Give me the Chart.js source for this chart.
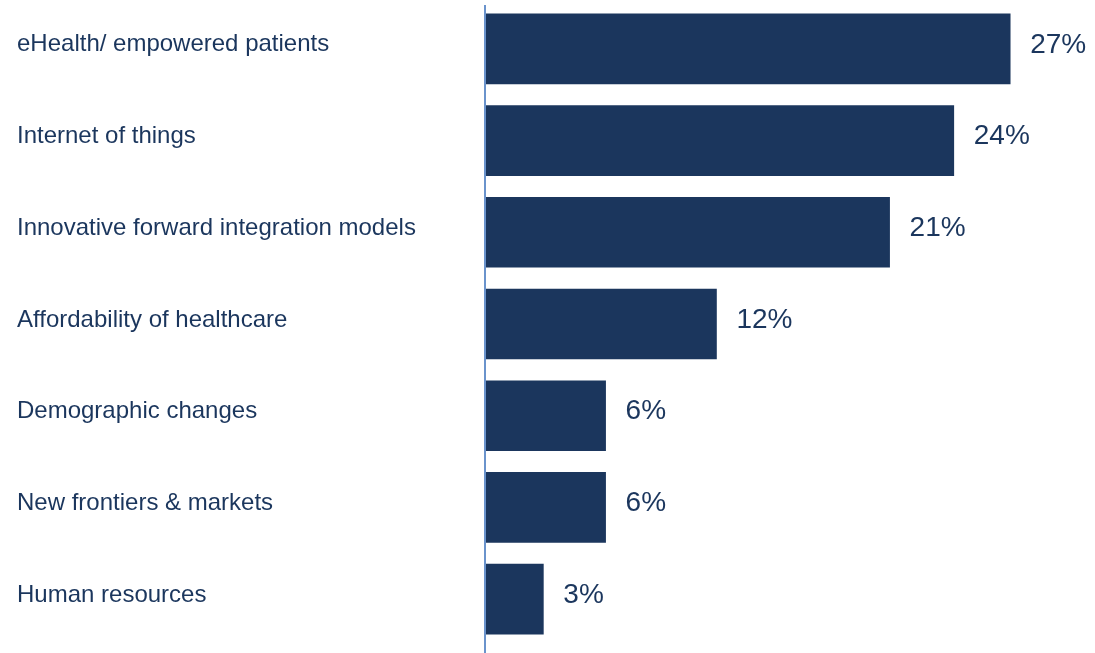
<!DOCTYPE html>
<html>
<head>
<meta charset="utf-8">
<script src="https://cdn.jsdelivr.net/npm/chart.js@4"></script>
<style>
  body { margin: 0; background: #fff; }
  #wrap { width: 1095px; height: 653px; position: relative; }
</style>
</head>
<body>
<div id="wrap"><canvas id="chart"></canvas></div>
<script>
// categories
const drivers = [
  "eHealth/ empowered patients",
  "Internet of things",
  "Innovative forward integration models",
  "Affordability of healthcare",
  "Demographic changes",
  "New frontiers & markets",
  "Human resources",
];

// share of respondents (%)
const shares = [27, 24.1, 20.8, 11.9, 6.2, 6.2, 3];

// labels printed next to bars
const shareLabels = ["27%", "24%", "21%", "12%", "6%", "6%", "3%"];

const navy = "#1b365d";

// draws the % next to each bar + the axis line running full height
const valueLabels = {
  id: "valueLabels",
  afterDatasetsDraw(chart) {
    const ctx = chart.ctx;
    const meta = chart.getDatasetMeta(0);
    ctx.save();
    ctx.strokeStyle = "#6a93cc";
    ctx.lineWidth = 2;
    ctx.beginPath();
    ctx.moveTo(chart.chartArea.left, 5);
    ctx.lineTo(chart.chartArea.left, chart.height);
    ctx.stroke();

    ctx.font = "28px 'Liberation Sans', Arial, sans-serif";
    ctx.fillStyle = navy;
    ctx.textAlign = "left";
    ctx.textBaseline = "middle";
    meta.data.forEach((bar, i) => {
      ctx.fillText(shareLabels[i], bar.x + 20, bar.y - 4);
    });
    ctx.restore();
  },
};

new Chart("chart", {
  type: "bar",
  data: {
    labels: drivers,
    datasets: [
      {
        data: shares,
        backgroundColor: navy,
        borderWidth: 0,
        barThickness: 70,
      },
    ],
  },
  plugins: [valueLabels],
  options: {
    indexAxis: "y",
    responsive: true,
    maintainAspectRatio: false,
    animation: false,
    layout: { padding: { left: 17, right: 7, top: 3, bottom: 8 } },
    plugins: { legend: { display: false }, tooltip: { enabled: false } },
    scales: {
      x: { display: false, min: 0, max: 31 },
      y: {
        grid: { display: false, drawTicks: false },
        border: { display: false },
        ticks: {
          crossAlign: "far",
          padding: 0,
          labelOffset: -4,
          color: navy,
          font: { family: "'Liberation Sans', Arial, sans-serif", size: 24 },
        },
        afterFit(scale) {
          scale.width = 468; // chart area starts at x=485
          scale.paddingTop = 0;
          scale.paddingBottom = 0;
        },
      },
    },
  },
});
</script>
</body>
</html>
